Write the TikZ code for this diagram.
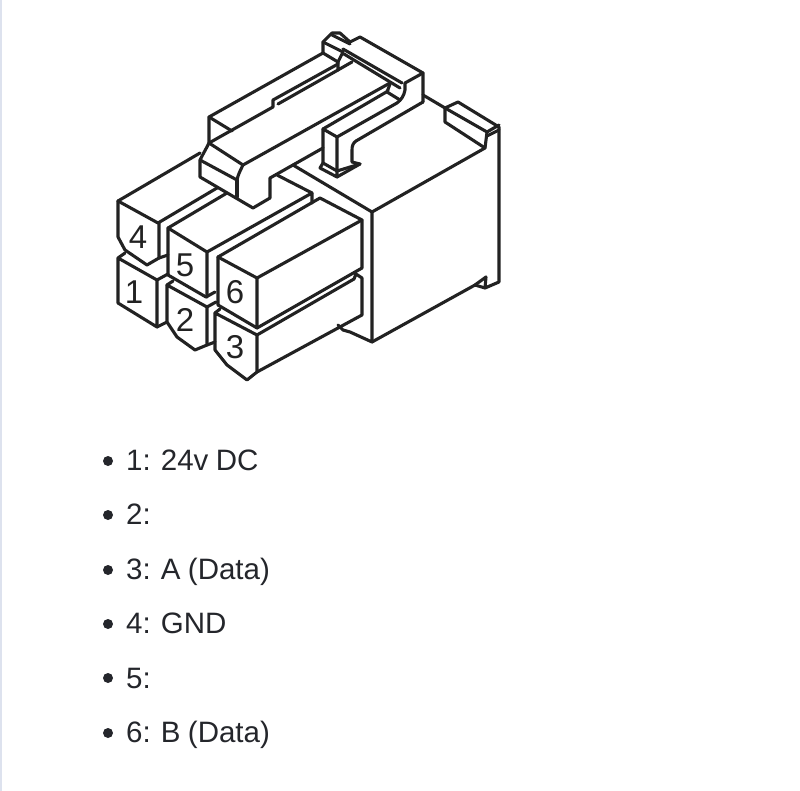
\documentclass[tikz,border=0pt]{standalone}
\usepackage{fontspec}
\setmainfont{Liberation Sans}
\newfontfamily\listfont[WordSpace=0.9]{Liberation Sans}
\definecolor{inkdark}{HTML}{222222}
\definecolor{textdark}{HTML}{24262B}
\definecolor{edgeblue}{HTML}{DDE2EE}
\begin{document}
\begin{tikzpicture}[x=1pt,y=-1pt]
	\tikzstyle{edge}=[draw=inkdark,line width=3.1pt,line join=round,line cap=round]
	\tikzstyle{pinno}=[inner sep=0pt,text=inkdark,font=\fontsize{33}{33}\selectfont]
	\tikzstyle{item}=[inner sep=0pt,anchor=base west,text=textdark,font=\listfont\fontsize{29.5}{34}\selectfont]
	\tikzstyle{dot}=[circle,fill=textdark,inner sep=0pt,minimum size=10pt]
	\useasboundingbox (0,0) rectangle (800,791);
	\fill[edgeblue] (0,0) rectangle (2,791);
	% rear block
	\draw[edge] (209,143) -- (209,117) -- (323,53);
	\draw[edge] (209,117) -- (232,131);
	\draw[edge] (209,143) -- (273,107) -- (273,100) -- (338,64);
	\draw[edge] (278,104) -- (338,70);
	% latch, top
	\draw[edge] (323,53) -- (323,42) -- (332,33) -- (340,33) -- (350,42) -- (360,37) -- (423,73) -- (423,102);
	\draw[edge] (323,42) -- (343,52) -- (338,62) -- (323,53);
	\draw[edge] (332,35) -- (350,44);
	\draw[edge] (338,62) -- (338,70) -- (352,62);
	\draw[edge] (343,49) -- (402,83);
	\draw[edge] (344,54) -- (400,88);
	\draw[edge] (423,73) -- (405,83) -- (405,90) .. controls (404,96) and (401,100) .. (397,103) -- (337,137);
	\draw[edge] (390,84) -- (387,92) -- (400,100);
	% latch, arm
	\draw[edge] (243,165) -- (390,83);
	\draw[edge] (323,129) -- (388,91);
	\draw[edge] (323,129) -- (337,137) -- (337,177) -- (320,168) -- (323,163) -- (323,129);
	\draw[edge] (323,163) -- (337,171) -- (360,164);
	\draw[edge] (337,177) -- (360,164) -- (352,162) -- (352,150) .. controls (352,146) and (353,143) .. (356,141) -- (423,102);
	% latch, front end
	\draw[edge] (209,143) -- (243,165) .. controls (240,171) and (238,175) .. (237,180) -- (200,160) .. controls (203,154) and (206,149) .. (209,143);
	\draw[edge] (200,160) -- (200,177) -- (253,208) -- (270,198) -- (270,178) -- (323,148);
	\draw[edge] (237,180) -- (237,197);
	% main block
	\draw[edge] (293,165) -- (372,212) -- (372,342) -- (350,332) -- (343,330) -- (338,325);
	\draw[edge] (372,212) -- (485,148) -- (445,122) -- (445,108) -- (458,102) -- (499,127) -- (499,282) -- (485,288) -- (475,285) -- (372,342);
	\draw[edge] (423,95) -- (445,108) -- (487,132) -- (485,148);
	\draw[edge] (487,132) -- (499,125);
	\draw[edge] (487,136) -- (499,130);
	\draw[edge] (475,285) -- (486,277) -- (485,288);
	% pin 4 and pin 1
	\draw[edge] (217,188) -- (158,223) -- (118,201) -- (200,153);
	\draw[edge] (118,201) -- (118,237) -- (125,250) -- (147,265) -- (159,258) -- (159,223);
	\draw[edge] (159,258) -- (168,255);
	\draw[edge] (125,253) -- (118,258) -- (118,303) -- (157,327) -- (157,280) -- (118,258);
	\draw[edge] (157,280) -- (168,274);
	\draw[edge] (157,327) -- (167,322);
	% pin 5 and pin 2
	\draw[edge] (227,193) -- (168,228) -- (168,275) -- (206,297) -- (215,292);
	\draw[edge] (168,228) -- (207,252) -- (207,297);
	\draw[edge] (207,252) -- (312,193) -- (312,203);
	\draw[edge] (277,175) -- (312,193);
	\draw[edge] (167,285) -- (173,281);
	\draw[edge] (167,285) -- (167,322) -- (177,337) -- (195,350) -- (207,345) -- (207,307) -- (167,285);
	\draw[edge] (207,307) -- (216,302);
	\draw[edge] (207,345) -- (215,342);
	% pin 6 and pin 3
	\draw[edge] (218,257) -- (320,198) -- (362,220) -- (362,268) -- (257,328);
	\draw[edge] (218,257) -- (257,278) -- (362,220);
	\draw[edge] (218,257) -- (218,305) -- (257,328) -- (257,278);
	\draw[edge] (215,313) -- (220,309);
	\draw[edge] (215,313) -- (215,350) -- (227,365) -- (247,380) -- (257,372) -- (257,335) -- (215,313);
	\draw[edge] (257,335) -- (354,279) -- (356,274) -- (362,278) -- (362,315) -- (257,372);
	% pin numbers
	\node[pinno] (pinfour) at (138,237) {4};
	\node[pinno] (pinfive) at (185,265) {5};
	\node[pinno] (pinone) at (134,292) {1};
	\node[pinno] (pinsix) at (235,292) {6};
	\node[pinno] (pintwo) at (185,320) {2};
	\node[pinno] (pinthree) at (235,347) {3};
	% list
	\node[dot] (dotone) at (108,461) {};
	\node[dot] (dottwo) at (108,515) {};
	\node[dot] (dotthree) at (108,570) {};
	\node[dot] (dotfour) at (108,624) {};
	\node[dot] (dotfive) at (108,678) {};
	\node[dot] (dotsix) at (108,733) {};
	\node[item] (itemone) at (126,470) {1: 24v DC};
	\node[item] (itemtwo) at (126,524) {2:};
	\node[item] (itemthree) at (126,579) {3: A (Data)};
	\node[item] (itemfour) at (126,633) {4: GND};
	\node[item] (itemfive) at (126,688) {5:};
	\node[item] (itemsix) at (126,742) {6: B (Data)};
\end{tikzpicture}
\end{document}
